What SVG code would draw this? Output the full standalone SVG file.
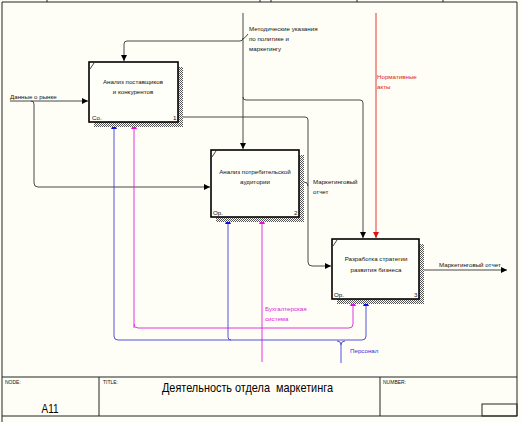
<svg xmlns="http://www.w3.org/2000/svg" width="521" height="422" viewBox="0 0 521 422">
<defs>
<pattern id="hatch" width="2" height="2" patternUnits="userSpaceOnUse">
<rect width="2" height="2" fill="#ffffff"/>
<rect width="1" height="1" fill="#555"/>
<rect x="1" y="1" width="1" height="1" fill="#555"/>
</pattern>
<marker id="ab" viewBox="0 0 8 8" refX="8" refY="4" markerWidth="6" markerHeight="6" orient="auto" markerUnits="userSpaceOnUse"><path d="M0,0 L8,4 L0,8 z" fill="#000"/></marker>
<marker id="ar" viewBox="0 0 8 8" refX="8" refY="4" markerWidth="6" markerHeight="6" orient="auto" markerUnits="userSpaceOnUse"><path d="M0,0 L8,4 L0,8 z" fill="#e01010"/></marker>
<marker id="au" viewBox="0 0 8 8" refX="8" refY="4" markerWidth="6" markerHeight="6" orient="auto" markerUnits="userSpaceOnUse"><path d="M0,0 L8,4 L0,8 z" fill="#1010e0"/></marker>
<marker id="am" viewBox="0 0 8 8" refX="8" refY="4" markerWidth="6" markerHeight="6" orient="auto" markerUnits="userSpaceOnUse"><path d="M0,0 L8,4 L0,8 z" fill="#e010e0"/></marker>
</defs>
<style>
text{font-family:"Liberation Sans",Arial,sans-serif;}
.lbl{font-size:6.2px;fill:#111;}
.box{fill:#fffffa;stroke:#000;stroke-width:1.6;}
.shadow{fill:url(#hatch);}
.ln{fill:none;stroke:#333;stroke-width:0.9;}
.red{fill:none;stroke:#e02020;stroke-width:0.9;}
.blue{fill:none;stroke:#4040dd;stroke-width:0.9;}
.mag{fill:none;stroke:#e020e0;stroke-width:0.9;}
.frame{fill:none;stroke:#222;stroke-width:1;}
.small{font-size:5px;fill:#111;}
</style>
<rect width="521" height="422" fill="#fefef6"/>
<g id="frame">
<line class="frame" x1="2" y1="2" x2="517" y2="2"/>
<line class="frame" x1="2" y1="2" x2="2" y2="422"/>
<line class="frame" x1="517" y1="2" x2="517" y2="416"/>
<line class="frame" x1="47" y1="0" x2="47" y2="2"/>
<line class="frame" x1="260" y1="0" x2="260" y2="2"/>
<line class="frame" x1="271" y1="0" x2="271" y2="2"/>
<line class="frame" x1="357" y1="0" x2="357" y2="2"/>
<line class="frame" x1="443" y1="0" x2="443" y2="2"/>
<line class="frame" x1="2" y1="377" x2="517" y2="377"/>
<line class="frame" x1="2" y1="416" x2="517" y2="416"/>
<line class="frame" x1="99" y1="377" x2="99" y2="416"/>
<line class="frame" x1="380" y1="377" x2="380" y2="416"/>
<rect class="frame" x="482" y="404" width="35" height="12"/>
<text class="small" x="5" y="384">NODE:</text>
<text class="small" x="103" y="384">TITLE:</text>
<text class="small" x="383" y="384">NUMBER:</text>
<text x="50" y="413" font-size="13" text-anchor="middle" textLength="17" lengthAdjust="spacingAndGlyphs" fill="#000">A11</text>
<text x="162" y="392" font-size="13" textLength="171" lengthAdjust="spacingAndGlyphs" fill="#000" xml:space="preserve">Деятельность отдела  маркетинга</text>
</g>
<g id="connectors">
<path class="ln" d="M10,101 H88" marker-end="url(#ab)"/>
<path class="ln" d="M31,101 Q34,101 34,104 V183 Q34,187 38,187 H210" marker-end="url(#ab)"/>
<text class="lbl" x="10" y="99">Данные о рынке</text>
<path class="ln" d="M243,13 V149" marker-end="url(#ab)"/>
<path class="ln" d="M243,38 Q243,41 240,41 H127 Q124,41 124,44 V61" marker-end="url(#ab)"/>
<path class="ln" d="M243,97 Q243,100 246,100 H360 Q363,100 363,103 V238" marker-end="url(#ab)"/>
<path class="ln" d="M243,39 Q246,37 248,34"/>
<text class="lbl" x="249" y="31">Методические указания</text>
<text class="lbl" x="249" y="41">по политике и</text>
<text class="lbl" x="249" y="51">маркетингу</text>
<path class="ln" d="M178,117 H305 Q308,117 308,120 V262 Q308,266 312,266 H331" marker-end="url(#ab)"/>
<path class="ln" d="M299,182 H304 Q308,182 308,186"/>
<text class="lbl" x="313" y="183.5">Маркетинговый</text>
<text class="lbl" x="313" y="193.5">отчет</text>
<path class="red" d="M376,13 V238" marker-end="url(#ar)"/>
<text class="lbl" x="377" y="79" style="fill:#e02020">Нормативные</text>
<text class="lbl" x="377" y="89" style="fill:#e02020">акты</text>
<path class="ln" d="M419,270 H507" marker-end="url(#ab)"/>
<text class="lbl" x="439" y="267">Маркетинговый отчет</text>
<path class="mag" d="M262,362 V218" marker-end="url(#am)"/>
<path class="mag" d="M134,328 V123" marker-end="url(#am)"/>
<path class="mag" d="M134,324 Q134,328 138,328 H349 Q353,328 353,324 V300" marker-end="url(#am)"/>
<text class="lbl" x="265" y="311" style="fill:#e020e0">Бухгалтерская</text>
<text class="lbl" x="265" y="321" style="fill:#e020e0">система</text>
<path class="blue" d="M114,336 V123" marker-end="url(#au)"/>
<path class="blue" d="M114,336 Q114,340 118,340 H362 Q366,340 366,336 V300" marker-end="url(#au)"/>
<path class="blue" d="M228,337 V218" marker-end="url(#au)"/>
<path class="blue" d="M228,337 Q228,340 231,340"/>
<path class="blue" d="M341,363 V345 Q341,341 337,341 M341,345 Q341,341 345,341"/>
<text class="lbl" x="350" y="353" style="fill:#3030dd">Персонал</text>
</g>
<g id="node1">
<rect class="shadow" x="178" y="67" width="5" height="60"/>
<rect class="shadow" x="94" y="122" width="89" height="5"/>
<rect class="box" x="89" y="62" width="89" height="60"/>
<path class="ln" d="M90,69 L94,63"/>
<text class="lbl" x="133" y="84" text-anchor="middle">Анализ поставщиков</text>
<text class="lbl" x="133" y="94" text-anchor="middle">и конкурентов</text>
<text class="lbl" x="92" y="120">Со.</text>
<text class="lbl" x="173" y="120">1</text>
</g>
<g id="node2">
<rect class="shadow" x="299" y="155" width="5" height="67"/>
<rect class="shadow" x="216" y="217" width="88" height="5"/>
<rect class="box" x="211" y="150" width="88" height="67"/>
<path class="ln" d="M212,157 L216,151"/>
<text class="lbl" x="255" y="174" text-anchor="middle">Анализ потребительской</text>
<text class="lbl" x="255" y="184" text-anchor="middle">аудитории</text>
<text class="lbl" x="213" y="214.5">Ор.</text>
<text class="lbl" x="294" y="214.5">2</text>
</g>
<g id="node3">
<rect class="shadow" x="419" y="244" width="5" height="60"/>
<rect class="shadow" x="337" y="299" width="87" height="5"/>
<rect class="box" x="332" y="239" width="87" height="60"/>
<path class="ln" d="M333,246 L337,240"/>
<text class="lbl" x="376" y="261" text-anchor="middle">Разработка стратегии</text>
<text class="lbl" x="376" y="272" text-anchor="middle">развития бизнеса</text>
<text class="lbl" x="334" y="297">Ор.</text>
<text class="lbl" x="414" y="297">3</text>
</g>
</svg>
